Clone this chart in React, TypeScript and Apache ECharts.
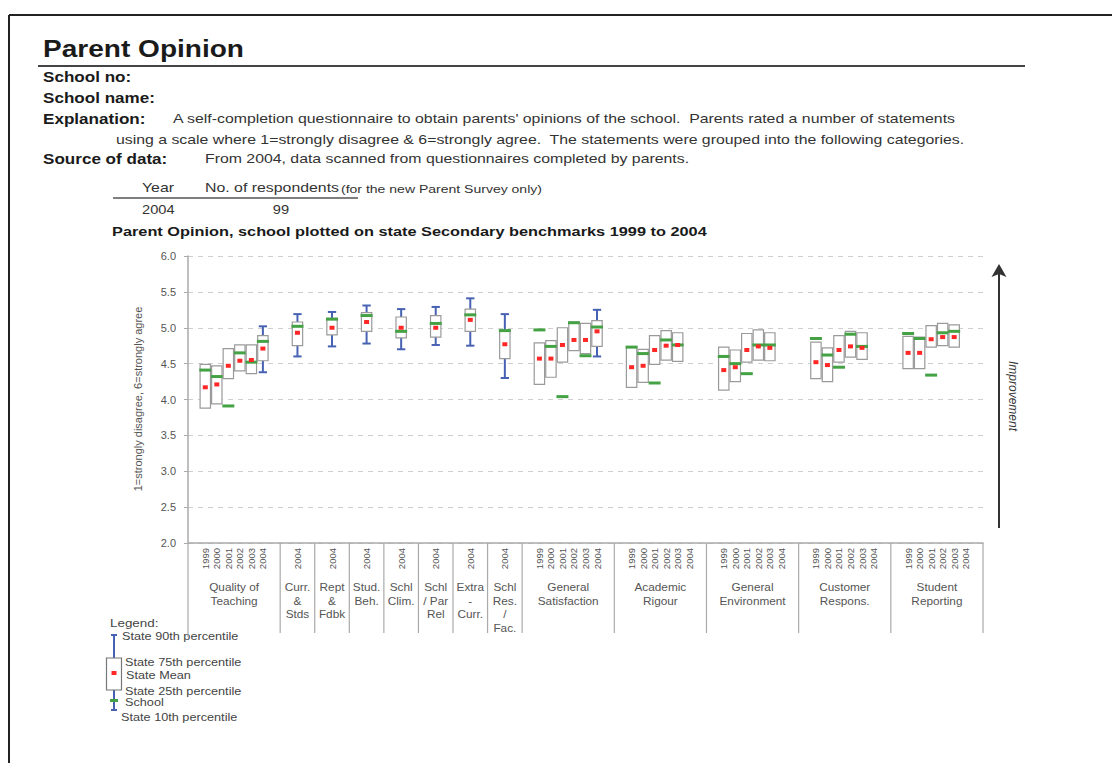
import React, { useEffect, useRef } from "react";
import * as echarts from "echarts";

const FONT = '"Liberation Sans", Arial, Helvetica, sans-serif';
const SX = 1.22;

// ---------- data ----------
const groupNames = [
  "Quality of\nTeaching",
  "Curr.\n&\nStds",
  "Rept\n&\nFdbk",
  "Stud.\nBeh.",
  "Schl\nClim.",
  "Schl\n/ Par\nRel",
  "Extra\n-\nCurr.",
  "Schl\nRes.\n/\nFac.",
  "General\nSatisfaction",
  "Academic\nRigour",
  "General\nEnvironment",
  "Customer\nRespons.",
  "Student\nReporting",
];
const YEARS6 = ["1999", "2000", "2001", "2002", "2003", "2004"];
const YEAR1 = ["2004"];
const groupYearLabels = [
  YEARS6, YEAR1, YEAR1, YEAR1, YEAR1, YEAR1, YEAR1, YEAR1,
  YEARS6, YEARS6, YEARS6, YEARS6, YEARS6,
];
const boxesPerGroup = [6, 1, 1, 1, 1, 1, 1, 1, 6, 5, 5, 5, 5];

const p25 = [
  3.88, 3.94, 4.29, 4.4, 4.36, 4.54,
  4.75, 4.9, 4.95, 4.86, 4.87, 4.95, 4.57,
  4.21, 4.31, 4.52, 4.68, 4.64, 4.74,
  4.17, 4.24, 4.49, 4.55, 4.53,
  4.13, 4.25, 4.52, 4.55, 4.54,
  4.29, 4.25, 4.52, 4.59, 4.56,
  4.43, 4.43, 4.73, 4.75, 4.73,
];
const p75 = [
  4.49, 4.47, 4.71, 4.76, 4.76, 4.89,
  5.08, 5.13, 5.21, 5.15, 5.17, 5.26, 4.97,
  4.79, 4.82, 5.0, 5.08, 5.06, 5.1,
  4.73, 4.7, 4.89, 4.96, 4.93,
  4.73, 4.69, 4.92, 4.97, 4.93,
  4.8, 4.72, 4.89, 4.95, 4.93,
  4.88, 4.87, 5.03, 5.06, 5.04,
];
const stateMean = [
  4.17, 4.21, 4.47, 4.54, 4.55, 4.71,
  4.93, 5.0, 5.08, 5.0, 5.0, 5.11, 4.77,
  4.57, 4.57, 4.76, 4.83, 4.83, 4.95,
  4.45, 4.47, 4.69, 4.75, 4.76,
  4.41, 4.45, 4.69, 4.74, 4.72,
  4.52, 4.48, 4.69, 4.74, 4.72,
  4.65, 4.65, 4.84, 4.87, 4.87,
];
const school = [
  4.41, 4.32, 3.91, 4.65, 4.52, 4.81,
  5.02, 5.12, 5.17, 4.95, 5.06, 5.18, 4.96,
  4.97, 4.74, 4.04, 5.07, 4.61, 5.01,
  4.73, 4.64, 4.23, 4.83, 4.76,
  4.6, 4.5, 4.36, 4.76, 4.76,
  4.85, 4.62, 4.45, 4.91, 4.74,
  4.92, 4.85, 4.34, 4.93, 4.95,
];
const N = null;
const p10 = [
  N, N, N, N, N, 4.38,
  4.6, 4.74, 4.78, 4.7, 4.76, 4.75, 4.3,
  N, N, N, N, N, 4.6,
  N, N, N, N, N,
  N, N, N, N, N,
  N, N, N, N, N,
  N, N, N, N, N,
];
const p90 = [
  N, N, N, N, N, 5.02,
  5.19, 5.22, 5.31, 5.26, 5.29, 5.41, 5.19,
  N, N, N, N, N, 5.25,
  N, N, N, N, N,
  N, N, N, N, N,
  N, N, N, N, N,
  N, N, N, N, N,
];
const yTicks = [2, 6, 0.5]; // min, max, interval

// ---------- derived category layout ----------
const cats: string[] = [];
const groupStart: number[] = [];
const groupEnd: number[] = [];
const boxCat: number[] = [];
groupYearLabels.forEach((yrs, g) => {
  const start = cats.length;
  cats.push(`${g}|L`);
  yrs.forEach((y) => cats.push(`${g}|Y${y}`));
  cats.push(`${g}|R`);
  groupStart.push(start);
  groupEnd.push(cats.length - 1);
  for (let k = 0; k < boxesPerGroup[g]; k++) boxCat.push(start + 1 + k);
});

const boxData = boxCat.map((c, i) => [
  c,
  p10[i] == null ? 0 : p10[i],
  p25[i],
  stateMean[i],
  p75[i],
  p90[i] == null ? 0 : p90[i],
  school[i],
  p10[i] == null ? 0 : 1,
]);
const groupData = groupStart.map((s, g) => [s, groupEnd[g], 2]);

const BLUE = "#4862b3";
const GREEN = "#44a244";
const RED = "#ff2626";
const BOXSTROKE = "#9a9a9a";

function txt(
  text: string,
  x: number,
  y: number,
  size: number,
  opts: any = {}
) {
  return {
    type: "text",
    x,
    y,
    scaleX: opts.scaleX ?? SX,
    rotation: opts.rotation ?? 0,
    silent: true,
    style: {
      text,
      x: 0,
      y: 0,
      fontSize: size,
      fontFamily: FONT,
      fontWeight: opts.bold ? "bold" : "normal",
      fontStyle: opts.italic ? "italic" : "normal",
      fill: opts.color ?? "#333",
      align: opts.align ?? "left",
      textAlign: opts.align ?? "left",
      verticalAlign: "middle",
      textVerticalAlign: "middle",
    },
  };
}

function line(x1: number, y1: number, x2: number, y2: number, color: string, w: number) {
  return {
    type: "line",
    silent: true,
    shape: { x1, y1, x2, y2 },
    style: { stroke: color, lineWidth: w },
  };
}

export default function App() {
  const ref = useRef<HTMLDivElement>(null);

  useEffect(() => {
    if (!ref.current) return;
    const chart = echarts.init(ref.current, undefined, { renderer: "svg" });

    const BODY = { color: "#333", scaleX: 1.3 };
    const graphics: any[] = [
      // page frame
      line(9, 15, 1112, 15, "#222", 2),
      line(9, 15, 9, 763, "#222", 2),
      // header
      txt("Parent Opinion", 43, 49, 23, { bold: true, color: "#1a1a1a" }),
      line(38, 66, 1025, 66, "#444", 2),
      txt("School no:", 43, 77, 14, { bold: true, color: "#1a1a1a" }),
      txt("School name:", 43, 98, 14, { bold: true, color: "#1a1a1a" }),
      txt("Explanation:", 43, 119, 14, { bold: true, color: "#1a1a1a" }),
      txt(
        "A self-completion questionnaire to obtain parents' opinions of the school.  Parents rated a number of statements",
        173, 119, 12.2, BODY
      ),
      txt(
        "using a scale where 1=strongly disagree & 6=strongly agree.  The statements were grouped into the following categories.",
        116, 140, 12.2, BODY
      ),
      txt("Source of data:", 43, 159, 14, { bold: true, color: "#1a1a1a" }),
      txt("From 2004, data scanned from questionnaires completed by parents.", 205, 159, 12.2, BODY),
      txt("Year", 142, 188, 13, { color: "#333" }),
      txt("No. of respondents", 205, 188, 13, { color: "#333" }),
      txt("(for the new Parent Survey only)", 341, 189, 11.5, { color: "#333" }),
      line(113, 198, 358, 198, "#555", 1.5),
      txt("2004", 142, 210, 12, { color: "#333" }),
      txt("99", 281, 210, 12, { color: "#333", align: "center" }),
      txt(
        "Parent Opinion, school plotted on state Secondary benchmarks 1999 to 2004",
        112, 232, 13, { bold: true, color: "#1a1a1a", scaleX: 1.255 }
      ),
      // y axis name
      txt("1=strongly disagree, 6=strongly agree", 138, 399, 11, {
        color: "#555", align: "center", rotation: Math.PI / 2, scaleX: 1,
      }),
      // improvement arrow
      line(999, 528, 999, 272, "#333", 2),
      {
        type: "polygon",
        silent: true,
        shape: { points: [[999, 264], [991.5, 277], [999, 274], [1006.5, 277]] },
        style: { fill: "#333" },
      },
      txt("Improvement", 1013, 396, 12, {
        italic: true, color: "#333", align: "center", rotation: -Math.PI / 2, scaleX: 1,
      }),
      // legend
      txt("Legend:", 110, 623, 11, { color: "#444" }),
      line(114, 635, 114, 710, BLUE, 2),
      line(111, 635, 117, 635, BLUE, 2),
      line(111, 710, 117, 710, BLUE, 2),
      {
        type: "rect",
        silent: true,
        shape: { x: 106.5, y: 658, width: 15, height: 32 },
        style: { fill: "#fff", stroke: "#777", lineWidth: 1.2 },
      },
      {
        type: "rect",
        silent: true,
        shape: { x: 111.5, y: 671, width: 5, height: 4 },
        style: { fill: RED },
      },
      line(110, 700.5, 118, 700.5, GREEN, 3),
      txt("State 90th percentile", 122, 636, 10.4, { color: "#444" }),
      txt("State 75th percentile", 125, 662, 10.4, { color: "#444" }),
      txt("State Mean", 126, 675, 10.4, { color: "#444" }),
      txt("State 25th percentile", 125, 690.5, 10.4, { color: "#444" }),
      txt("School", 125, 701.5, 10.4, { color: "#444" }),
      txt("State 10th percentile", 121, 717, 10.4, { color: "#444" }),
    ];

    const option: any = {
      animation: false,
      backgroundColor: "#fff",
      textStyle: { fontFamily: FONT },
      grid: { left: 188, top: 256, right: 129, bottom: 220, containLabel: false },
      xAxis: {
        type: "category",
        data: cats,
        boundaryGap: true,
        axisLine: { show: true, lineStyle: { color: "#aaa", width: 1.5 } },
        axisTick: { show: false },
        splitLine: { show: false },
        axisLabel: {
          interval: 0,
          rotate: 90,
          margin: 5,
          fontSize: 9.5,
          fontFamily: FONT,
          color: "#555",
          formatter: (v: string) => {
            const part = v.split("|")[1];
            return part.startsWith("Y") ? part.slice(1) : "";
          },
        },
      },
      yAxis: {
        type: "value",
        min: yTicks[0],
        max: yTicks[1],
        interval: yTicks[2],
        axisLine: { show: true, lineStyle: { color: "#aaa", width: 1.5 } },
        axisTick: { show: true, length: 4, lineStyle: { color: "#aaa" } },
        axisLabel: {
          margin: 12,
          fontSize: 11,
          fontFamily: FONT,
          color: "#555",
          formatter: (v: number) => v.toFixed(1),
        },
        splitLine: { show: true, lineStyle: { color: "#cfcfcf", type: [5, 5], width: 1 } },
      },
      series: [
        {
          type: "custom",
          name: "boxes",
          silent: true,
          clip: false,
          data: boxData,
          encode: { x: 0, y: [2, 4] },
          renderItem: (params: any, api: any) => {
            const c = api.value(0);
            const bw = api.size([1, 0])[0];
            const x = api.coord([c, 2])[0];
            const yOf = (v: number) => api.coord([c, v])[1];
            const children: any[] = [];
            if (api.value(7)) {
              const yTop = yOf(api.value(5));
              const yBot = yOf(api.value(1));
              const cw = bw * 0.36;
              children.push(
                { type: "line", shape: { x1: x, y1: yTop, x2: x, y2: yBot }, style: { stroke: BLUE, lineWidth: 2 } },
                { type: "line", shape: { x1: x - cw, y1: yTop, x2: x + cw, y2: yTop }, style: { stroke: BLUE, lineWidth: 2 } },
                { type: "line", shape: { x1: x - cw, y1: yBot, x2: x + cw, y2: yBot }, style: { stroke: BLUE, lineWidth: 2 } }
              );
            }
            const yq3 = yOf(api.value(4));
            const yq1 = yOf(api.value(2));
            const w = bw * 0.9;
            children.push({
              type: "rect",
              shape: { x: x - w / 2, y: yq3, width: w, height: yq1 - yq3 },
              style: { fill: "#fff", stroke: BOXSTROKE, lineWidth: 1.2 },
            });
            const ys = yOf(api.value(6));
            children.push({
              type: "line",
              shape: { x1: x - bw * 0.52, y1: ys, x2: x + bw * 0.52, y2: ys },
              style: { stroke: GREEN, lineWidth: 3 },
            });
            const ym = yOf(api.value(3));
            children.push({
              type: "rect",
              shape: { x: x - 2.5, y: ym - 2, width: 5, height: 4 },
              style: { fill: RED },
            });
            return { type: "group", children };
          },
        },
        {
          type: "custom",
          name: "groups",
          silent: true,
          clip: false,
          data: groupData,
          encode: { x: [0, 1], y: 2 },
          renderItem: (params: any, api: any) => {
            const g = params.dataIndex;
            const bw = api.size([1, 0])[0];
            const p0 = api.coord([api.value(0), api.value(2)]);
            const p1 = api.coord([api.value(1), api.value(2)]);
            const xl = p0[0] - bw / 2;
            const xr = p1[0] + bw / 2;
            const y0 = p0[1];
            const children: any[] = [
              {
                type: "line",
                shape: { x1: xl, y1: y0, x2: xl, y2: y0 + (g === 0 ? 94 : 90) },
                style: { stroke: "#aaa", lineWidth: 1.2 },
              },
            ];
            if (g === groupNames.length - 1) {
              children.push({
                type: "line",
                shape: { x1: xr, y1: y0, x2: xr, y2: y0 + 90 },
                style: { stroke: "#aaa", lineWidth: 1.2 },
              });
            }
            children.push({
              type: "text",
              x: (xl + xr) / 2,
              y: y0 + 38,
              scaleX: 1.18,
              style: {
                text: groupNames[g],
                x: 0,
                y: 0,
                fontSize: 10,
                lineHeight: 13.5,
                fontFamily: FONT,
                fill: "#555",
                align: "center",
                textAlign: "center",
                verticalAlign: "top",
                textVerticalAlign: "top",
              },
            });
            return { type: "group", children };
          },
        },
      ],
      graphic: { elements: graphics },
    };

    chart.setOption(option);
    return () => chart.dispose();
  }, []);

  return (
    <div
      ref={ref}
      style={{ position: "absolute", left: 0, top: 0, width: 1112, height: 763, background: "#fff" }}
    />
  );
}
